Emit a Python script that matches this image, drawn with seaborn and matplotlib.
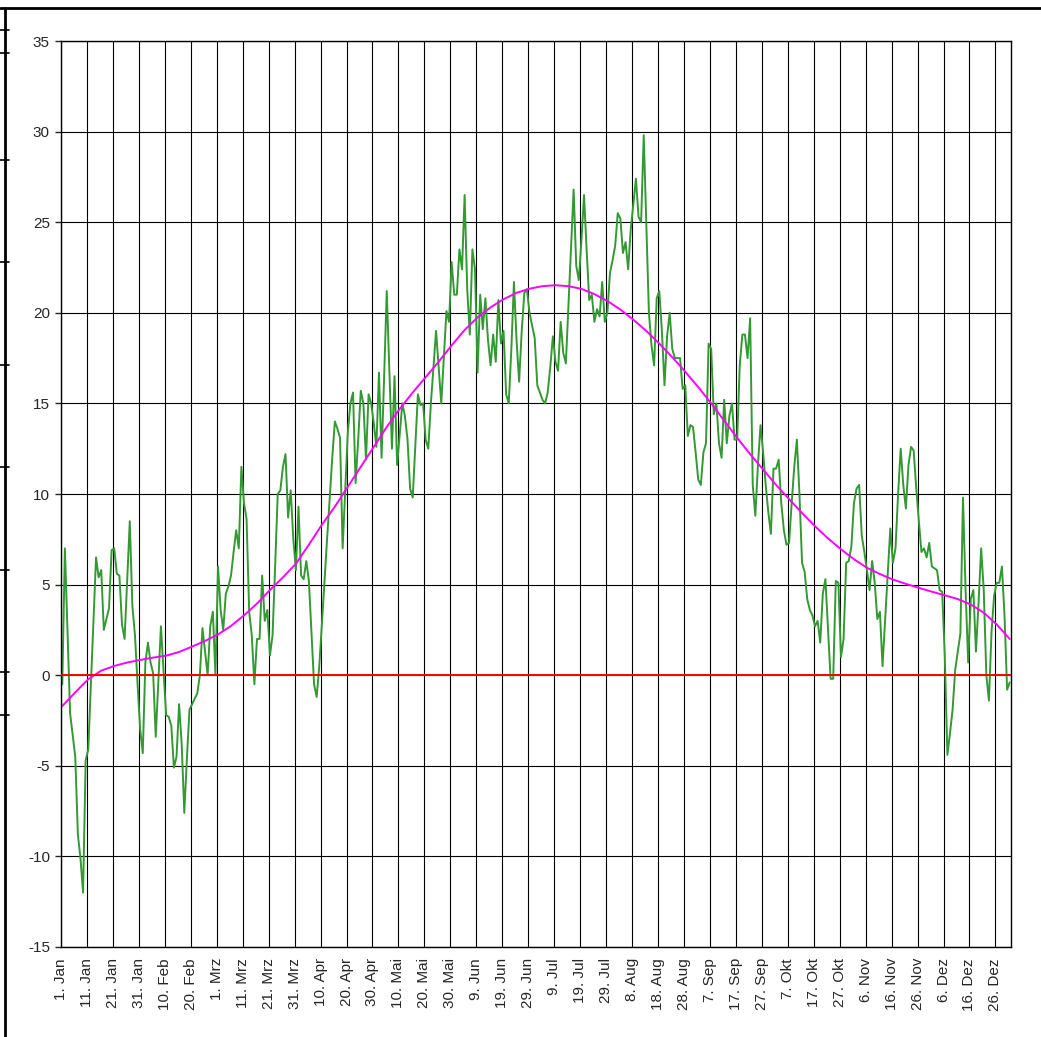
import numpy as np
import matplotlib
matplotlib.use("Agg")
import matplotlib.pyplot as plt
from matplotlib.lines import Line2D
import seaborn as sns

# Tagesmitteltemperatur (366 Tage, Schaltjahr), je Zeile 10 Tage
temperatur = [
    -0.5, 7.0, 2.4, -2.1, -3.3, -4.5, -8.8, -10.1, -12.0, -4.7,
    -4.1, -0.6, 3.0, 6.5, 5.4, 5.8, 2.5, 3.1, 3.7, 6.9,
    7.0, 5.6, 5.5, 2.8, 2.0, 5.3, 8.5, 3.8, 2.2, -0.5,
    -3.0, -4.3, 0.7, 1.8, 0.7, 0.1, -3.4, -0.3, 2.7, 0.3,
    -2.2, -2.3, -2.8, -5.1, -4.5, -1.6, -3.8, -7.6, -4.6, -1.9,
    -1.6, -1.3, -1.0, 0.0, 2.6, 1.3, 0.0, 2.7, 3.5, 0.0,
    6.0, 3.6, 2.5, 4.5, 4.9, 5.5, 6.8, 8.0, 7.0, 11.5,
    9.5, 8.6, 3.5, 2.2, -0.5, 2.0, 2.0, 5.5, 3.0, 3.6,
    1.1, 2.2, 6.0, 10.0, 10.2, 11.5, 12.2, 8.7, 10.2, 7.5,
    5.8, 9.3, 5.5, 5.3, 6.3, 5.2, 2.3, -0.5, -1.2, 0.5,
    2.8, 5.2, 7.5, 9.7, 12.0, 14.0, 13.6, 13.1, 7.0, 10.2,
    13.4, 15.0, 15.6, 10.6, 13.0, 15.7, 15.0, 11.9, 15.5, 15.0,
    13.9, 12.6, 16.7, 12.0, 16.5, 21.2, 16.8, 12.5, 16.5, 11.6,
    13.3, 15.0, 14.3, 13.0, 10.3, 9.8, 12.7, 15.5, 14.9, 15.0,
    13.0, 12.5, 15.0, 17.0, 19.0, 17.0, 15.0, 17.5, 20.1, 19.5,
    22.8, 21.0, 21.0, 23.5, 22.4, 26.5, 21.3, 18.8, 23.5, 22.4,
    16.7, 21.0, 19.1, 20.8, 18.5, 17.1, 18.8, 17.3, 20.7, 18.3,
    19.0, 15.5, 15.0, 18.0, 21.7, 18.5, 16.2, 19.0, 21.1, 21.3,
    20.0, 19.3, 18.6, 16.0, 15.6, 15.2, 15.0, 15.6, 17.0, 18.7,
    17.3, 16.8, 19.5, 17.8, 17.2, 20.4, 23.6, 26.8, 22.6, 21.8,
    24.0, 26.5, 23.5, 20.7, 21.0, 19.5, 20.2, 19.8, 21.7, 19.5,
    20.0, 22.2, 22.9, 23.7, 25.5, 25.2, 23.3, 23.9, 22.4, 24.6,
    26.0, 27.4, 25.3, 25.0, 29.8, 24.9, 20.0, 18.2, 17.1, 20.8,
    21.2, 19.0, 16.0, 18.7, 20.0, 18.0, 17.5, 17.5, 17.5, 15.8,
    16.0, 13.2, 13.8, 13.7, 12.3, 10.8, 10.5, 12.3, 12.8, 18.3,
    18.0, 14.4, 15.0, 12.8, 12.0, 15.2, 12.8, 14.3, 15.0, 13.0,
    13.0, 17.1, 18.8, 18.8, 17.5, 19.7, 10.5, 8.8, 11.6, 13.8,
    12.3, 10.5, 9.0, 7.8, 11.4, 11.4, 11.9, 9.5, 8.0, 7.2,
    7.3, 9.5, 11.5, 13.0, 10.0, 6.2, 5.7, 4.2, 3.6, 3.3,
    2.7, 3.0, 1.8, 4.5, 5.3, 2.5, -0.2, -0.2, 5.2, 5.1,
    1.0, 2.0, 6.2, 6.3, 7.1, 9.5, 10.3, 10.5, 7.7, 6.8,
    5.8, 4.7, 6.3, 5.1, 3.1, 3.5, 0.5, 3.0, 5.6, 8.1,
    6.2, 7.0, 10.0, 12.5, 10.5, 9.2, 11.6, 12.6, 12.4, 10.3,
    8.5, 6.8, 7.0, 6.5, 7.3, 6.0, 5.9, 5.8, 4.7, 4.6,
    1.0, -4.4, -3.2, -1.9, 0.3, 1.3, 2.3, 9.8, 4.7, 0.7,
    4.2, 4.7, 1.3, 4.0, 7.0, 4.7, 0.0, -1.4, 2.4, 4.4,
    5.1, 5.1, 6.0, 3.3, -0.8, -0.4,
]

trend_tage = list(range(0, 365, 5)) + [365]
trend_werte = [-1.7, -0.95, -0.22, 0.25, 0.51, 0.7, 0.84, 0.97, 1.08, 1.28,
               1.58, 1.89, 2.25, 2.72, 3.3, 3.95, 4.7, 5.4, 6.15, 7.2,
               8.3, 9.3, 10.4, 11.5, 12.6, 13.7, 14.7, 15.6, 16.45, 17.3,
               18.2, 19.05, 19.75, 20.3, 20.75, 21.1, 21.33, 21.47, 21.52, 21.47,
               21.32, 21.03, 20.65, 20.18, 19.62, 19.0, 18.3, 17.55, 16.75, 15.9,
               15.0, 14.05, 13.1, 12.2, 11.35, 10.5, 9.72, 8.95, 8.22, 7.55,
               6.95, 6.4, 5.93, 5.58, 5.28, 5.04, 4.82, 4.61, 4.41, 4.2,
               3.9, 3.45, 2.8, 2.0]

# Achsenbeschriftung alle 10 Tage
x_labels = ["1. Jan", "11. Jan", "21. Jan", "31. Jan", "10. Feb", "20. Feb",
            "1. Mrz", "11. Mrz", "21. Mrz", "31. Mrz", "10. Apr", "20. Apr",
            "30. Apr", "10. Mai", "20. Mai", "30. Mai", "9. Jun", "19. Jun",
            "29. Jun", "9. Jul", "19. Jul", "29. Jul", "8. Aug", "18. Aug",
            "28. Aug", "7. Sep", "17. Sep", "27. Sep", "7. Okt", "17. Okt",
            "27. Okt", "6. Nov", "16. Nov", "26. Nov", "6. Dez", "16. Dez",
            "26. Dez"]
y_ticks = [-15, -10, -5, 0, 5, 10, 15, 20, 25, 30, 35]

sns.set_style("white")
plt.rcParams['font.family'] = ['Liberation Sans', 'DejaVu Sans']

fig = plt.figure(figsize=(10.41, 10.37), dpi=100)
ax = fig.add_axes([61 / 1041, 90 / 1037, 950 / 1041, 906 / 1037])

# Punkte liegen mittig in der jeweiligen Tageskategorie
tage = np.arange(len(temperatur)) + 0.5
sns.lineplot(x=tage, y=temperatur, ax=ax, color="#339933", linewidth=1.4)
sns.lineplot(x=np.array(trend_tage) + 0.5, y=trend_werte, ax=ax,
             color="#ff00ff", linewidth=1.4)
ax.axhline(0, color="#ff0000", linewidth=1.4, zorder=3)

ax.set_xlim(0, len(temperatur))
ax.set_ylim(-15, 35)
ax.set_xticks(np.arange(0, 370, 10))
ax.set_xticklabels(x_labels, rotation=90, fontsize=11)
ax.set_yticks(y_ticks)
ax.set_yticklabels([str(v) for v in y_ticks], fontsize=11)
ax.tick_params(axis="x", length=0, pad=8)
ax.tick_params(axis="y", length=4, width=1, direction="out", pad=4, left=True)

ax.grid(True, color="black", linewidth=0.8)
ax.set_axisbelow(True)
for s in ax.spines.values():
    s.set_color("black")
    s.set_linewidth(1.0)
ax.set_xlabel("")
ax.set_ylabel("")

# Rahmen der Tabellenkalkulation
fig.add_artist(Line2D([0, 1], [1 - 8 / 1037, 1 - 8 / 1037], color="black", linewidth=2))
fig.add_artist(Line2D([5 / 1041, 5 / 1041], [0, 1 - 8 / 1037], color="black", linewidth=2))
for yy in [30, 53, 160, 262, 365, 467, 570, 672, 715]:
    fig.add_artist(Line2D([0, 9 / 1041], [1 - yy / 1037, 1 - yy / 1037],
                          color="black", linewidth=1.2))

fig.savefig("out.png", dpi=100)
